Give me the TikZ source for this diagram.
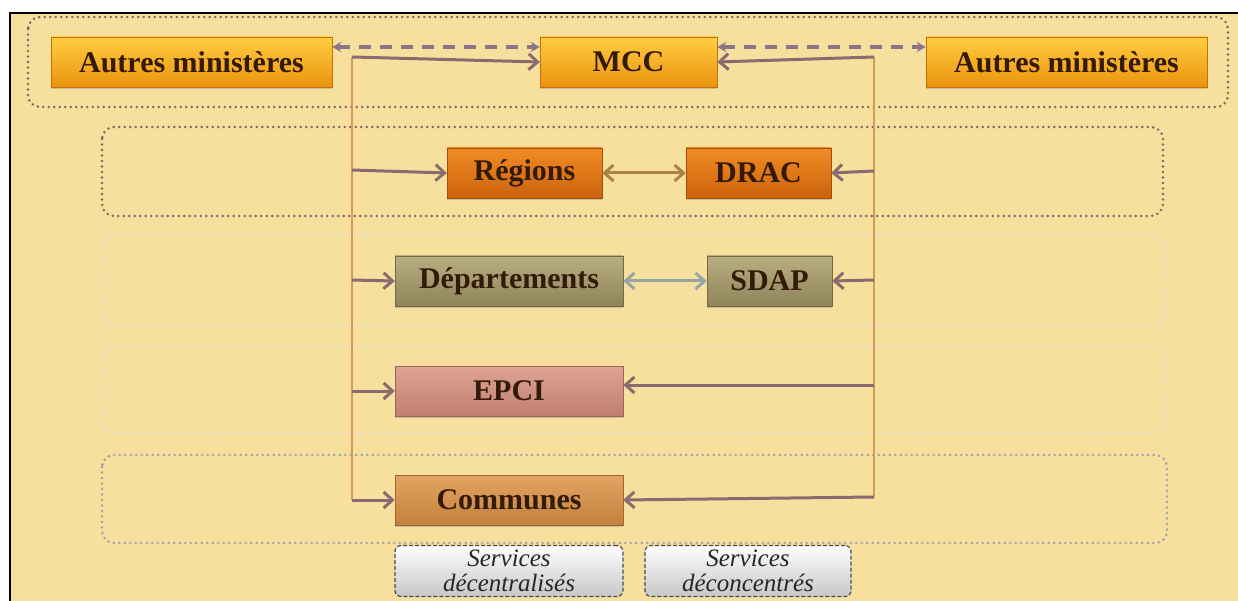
\documentclass[tikz,border=0pt]{standalone}
\usepackage{fontspec}
\setmainfont{Liberation Serif}
\usepackage{tikz}
\usetikzlibrary{arrows.meta, positioning, shadows}
\definecolor{pagebeige}{RGB}{247,223,157}
\definecolor{goldtop}{RGB}{255,206,64}
\definecolor{goldbottom}{RGB}{236,146,14}
\definecolor{orangetop}{RGB}{240,140,36}
\definecolor{orangebottom}{RGB}{204,98,14}
\definecolor{olivetop}{RGB}{184,174,128}
\definecolor{olivebottom}{RGB}{142,132,90}
\definecolor{rosetop}{RGB}{222,164,148}
\definecolor{rosebottom}{RGB}{192,126,112}
\definecolor{tantop}{RGB}{226,164,98}
\definecolor{tanbottom}{RGB}{196,128,62}
\definecolor{textbrown}{RGB}{52,26,8}
\definecolor{linkmauve}{RGB}{140,106,110}
\definecolor{dashmauve}{RGB}{138,118,136}
\definecolor{trunkcolor}{RGB}{214,156,84}
\definecolor{pairorange}{RGB}{176,128,74}
\definecolor{pairgrey}{RGB}{150,166,166}
\definecolor{zonedark}{RGB}{120,104,100}
\definecolor{zonelight}{RGB}{232,228,226}
\definecolor{zonegrey}{RGB}{160,160,172}

\begin{document}
\begin{tikzpicture}[
    x=1pt, y=-1pt,
    box/.style={draw=#1bottom!80!black, top color=#1top, bottom color=#1bottom, minimum height=50pt, inner sep=0pt, text=textbrown, font=\fontsize{30}{30}\selectfont\bfseries, drop shadow={opacity=0.35, shadow xshift=0pt, shadow yshift=-2pt}},
    servicebox/.style={draw=black!70, dashed, dash pattern=on 4pt off 2pt, line width=1.2pt, rounded corners=6pt, top color=white, bottom color=black!22, minimum height=51pt, inner sep=0pt, align=center, text=black!85, font=\fontsize{25}{25}\selectfont\itshape},
    zone/.style={draw=#1, line width=2.8pt, line cap=round, dash pattern=on 0pt off 5.5pt, rounded corners=12pt},
    trunk/.style={draw=trunkcolor, line width=2.2pt},
    link/.style={draw=linkmauve, line width=3pt, -{Straight Barb[length=9pt,width=16pt]}},
    pairlink/.style={draw=#1, line width=3pt, {Straight Barb[length=9pt,width=16pt]}-{Straight Barb[length=9pt,width=16pt]}},
    dashlink/.style={draw=dashmauve, line width=3.8pt, dash pattern=on 12pt off 9pt, {Stealth[length=9pt,width=10pt]}-{Stealth[length=9pt,width=10pt]}}
]
    % Frame
    \useasboundingbox (0,0) rectangle (1238,601);
    \fill[white] (0,0) rectangle (1238,601);
    \fill[pagebeige] (10,13) rectangle (1238,601);
    \draw[line width=2.5pt] (10,601) -- (10,13) -- (1238,13);

    % Levels
    \draw[zone=zonedark] (28,17) rectangle (1228,107);
    \draw[zone=zonedark] (102,127) rectangle (1163,216);
    \draw[zone=zonelight] (102,235) rectangle (1165,325);
    \draw[zone=zonelight] (102,347) rectangle (1165,433);
    \draw[zone=zonegrey] (102,455) rectangle (1167,543);

    % Trunks
    \coordinate (lt) at (352,57);
    \coordinate (lb) at (352,500);
    \coordinate (rt) at (874,57);
    \coordinate (rb) at (874,497);
    \draw[trunk] (lt) -- (lb);
    \draw[trunk] (rt) -- (rb);

    % Ministries
    \node[box=gold, minimum width=281pt] (autresL) at (191.5,62) {Autres ministères};
    \node[box=gold, minimum width=177pt] (mcc) at (628.5,62) {MCC};
    \node[box=gold, minimum width=281pt] (autresR) at (1066.5,62) {Autres ministères};

    % Territories
    \node[box=orange, minimum width=155pt] (regions) at (524.5,173) {Régions};
    \node[box=orange, minimum width=145pt] (drac) at (758.5,173) {DRAC};
    \node[box=olive, minimum width=228pt] (depts) at (509,281) {Départements};
    \node[box=olive, minimum width=125pt] (sdap) at (769.5,281) {SDAP};
    \node[box=rose, minimum width=228pt] (epci) at (509,391) {EPCI};
    \node[box=tan, minimum width=228pt] (communes) at (509,500) {Communes};

    % Legend
    \node[servicebox, minimum width=228pt] (decentr) at (509,571) {Services\\décentralisés};
    \node[servicebox, minimum width=206pt] (deconc) at (748,571) {Services\\déconcentrés};

    % Cross-ministry links
    \draw[dashlink] ([yshift=15pt]autresL.east) -- ([yshift=15pt]mcc.west);
    \draw[dashlink] ([yshift=15pt]mcc.east) -- ([yshift=15pt]autresR.west);

    % Left branches
    \coordinate (l1) at (352,170);
    \coordinate (l2) at (352,280);
    \coordinate (l3) at (352,391);
    \coordinate (l4) at (352,500);
    \draw[link] (lt) -- (mcc.west);
    \draw[link] (l1) -- (regions.west);
    \draw[link] (l2) -- (depts.west);
    \draw[link] (l3) -- (epci.west);
    \draw[link] (l4) -- (communes.west);

    % Right branches
    \coordinate (r1) at (874,171);
    \coordinate (r2) at (874,280);
    \coordinate (r3) at (874,385);
    \coordinate (r4) at (874,497);
    \draw[link] (rt) -- (mcc.east);
    \draw[link] (r1) -- (drac.east);
    \draw[link] (r2) -- (sdap.east);
    \draw[link] (r3) -- (epci.east |- r3);
    \draw[link] (r4) -- (communes.east);

    % Partners
    \draw[pairlink=pairorange] (regions) -- (drac);
    \draw[pairlink=pairgrey] (depts) -- (sdap);
\end{tikzpicture}
\end{document}
